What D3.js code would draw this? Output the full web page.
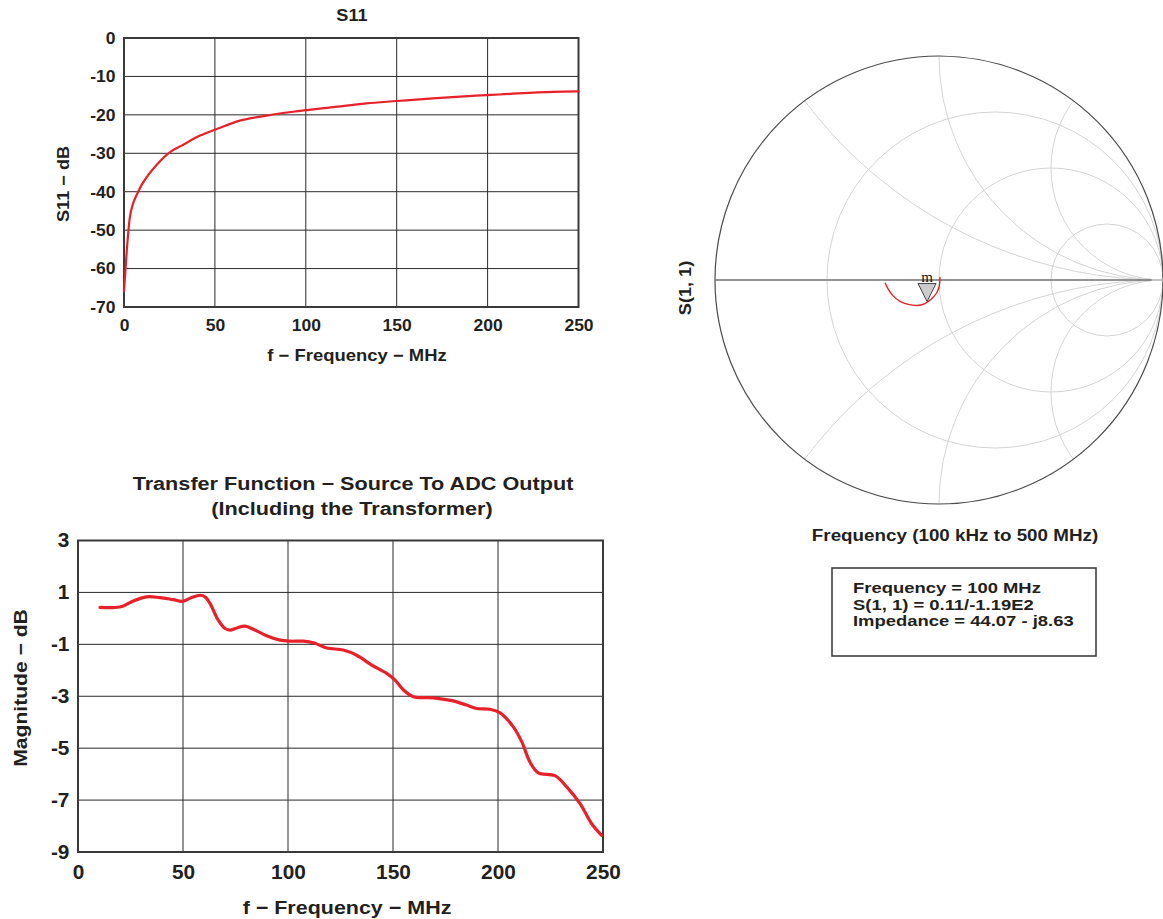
<!DOCTYPE html>
<html><head><meta charset="utf-8">
<script src="https://cdn.jsdelivr.net/npm/d3@7"></script>
<style>
body{margin:0;background:#fff}
svg{display:block;font-family:"Liberation Sans",Arial,sans-serif;font-weight:bold;fill:#231f20}
</style>
</head><body>
<svg id="c" width="1163" height="919"></svg>
<script>
// ---------- S11 chart data ----------
const s11Freq = [0, 1.5, 3.3, 7.9, 13.4, 18, 25.3, 31.7, 41.8, 50.9, 63.7, 78.4, 93, 115, 133.3, 150, 169.8, 193.6, 206.6, 235.9, 250];
const s11dB   = [-65.9, -55.5, -46.4, -39.9, -35.6, -33, -29.7, -28, -25.4, -23.7, -21.5, -20.2, -19.2, -18.0, -17.0, -16.4, -15.7, -15.0, -14.7, -14.0, -13.9];
const s11XTicks = [0, 50, 100, 150, 200, 250];
const s11YTicks = [0, -10, -20, -30, -40, -50, -60, -70];

// ---------- Transfer function data ----------
const tfFreq = [10.5, 17.6, 21.6, 26.3, 32.7, 39, 45.4, 50, 54.1, 58.1, 60.5, 62.9, 66.8, 70, 72.4, 75.6, 79.5, 83.5, 89.8, 96.2, 101, 107.3, 112.5, 118.4, 126.3, 132.7, 139.9, 147, 151, 155, 159.7, 169.2, 178.7, 185, 189.8, 196.2, 201, 207.3, 211.3, 215.2, 219.2, 227.1, 232.7, 239, 244.6, 249.4];
const tfMag  = [0.42, 0.42, 0.48, 0.67, 0.83, 0.80, 0.72, 0.66, 0.80, 0.89, 0.83, 0.57, -0.07, -0.39, -0.45, -0.37, -0.30, -0.42, -0.67, -0.84, -0.88, -0.88, -0.95, -1.14, -1.22, -1.42, -1.80, -2.12, -2.38, -2.76, -3.02, -3.06, -3.18, -3.34, -3.47, -3.50, -3.64, -4.18, -4.75, -5.53, -5.95, -6.06, -6.49, -7.13, -7.91, -8.36];
const tfXTicks = [0, 50, 100, 150, 200, 250];
const tfYTicks = [3, 1, -1, -3, -5, -7, -9];

// ---------- Smith chart data ----------
const smithRe = [0.004, 0.004, 0.001, -0.010, -0.033, -0.0625, -0.100, -0.137, -0.174, -0.204, -0.226, -0.241];
const smithIm = [0.014, 0.002, -0.028, -0.057, -0.084, -0.105, -0.114, -0.109, -0.095, -0.072, -0.042, -0.0125];
const smithRGrid = [1/3, 1, 3];
const smithXGrid = [0.5, 1, 2];
const markerMag = 0.11, markerAngleDeg = -119;
const infoLines = ["Frequency = 100 MHz", "S(1, 1) = 0.11/-1.19E2", "Impedance = 44.07 - j8.63"];

const svg = d3.select("#c");
const RED = "#e8202a";

// text helper: wide (horizontally stretched) bold label
function label(x, y, txt, size, stretch, opts = {}) {
  const rot = opts.rotate ? ` rotate(${opts.rotate})` : "";
  return svg.append("text")
    .attr("transform", `translate(${x},${y})${rot} scale(${stretch},1)`)
    .attr("text-anchor", opts.anchor || "middle")
    .attr("font-size", size).text(txt);
}

function lineChart(cfg) {
  const g = svg.append("g");
  const x = d3.scaleLinear().domain(cfg.xDomain).range([cfg.left, cfg.right]);
  const y = d3.scaleLinear().domain(cfg.yDomain).range([cfg.bottom, cfg.top]);
  g.append("g").selectAll("line.v").data(cfg.xTicks.slice(1, -1)).join("line")
    .attr("x1", d => x(d)).attr("x2", d => x(d)).attr("y1", cfg.top).attr("y2", cfg.bottom)
    .attr("stroke", "#2a2a2a").attr("stroke-width", 1);
  g.append("g").selectAll("line.h").data(cfg.yTicks.slice(1, -1)).join("line")
    .attr("y1", d => y(d)).attr("y2", d => y(d)).attr("x1", cfg.left).attr("x2", cfg.right)
    .attr("stroke", "#2a2a2a").attr("stroke-width", 1);
  const ax = g.append("g").attr("transform", `translate(0,${cfg.bottom})`)
    .call(d3.axisBottom(x).tickValues(cfg.xTicks).tickSize(0).tickPadding(cfg.xPad).tickFormat(d3.format("d")));
  const ay = g.append("g").attr("transform", `translate(${cfg.left},0)`)
    .call(d3.axisLeft(y).tickValues(cfg.yTicks).tickSize(0).tickPadding(cfg.yPad).tickFormat(d => String(d)));
  [ax, ay].forEach(a => {
    a.select(".domain").remove();
    a.selectAll("text").attr("font-size", cfg.fs).attr("font-weight", "bold")
      .attr("font-family", '"Liberation Sans",Arial,sans-serif').attr("fill", "#231f20")
      .attr("transform", `scale(${cfg.tickStretch},1)`);
  });
  g.append("rect").attr("x", cfg.left).attr("y", cfg.top)
    .attr("width", cfg.right - cfg.left).attr("height", cfg.bottom - cfg.top)
    .attr("fill", "none").attr("stroke", "#3a3a3a").attr("stroke-width", 2);
  const pts = cfg.xs.map((v, i) => [v, cfg.ys[i]]);
  g.append("path").datum(pts)
    .attr("d", d3.line().x(d => x(d[0])).y(d => y(d[1])).curve(cfg.curve))
    .attr("fill", "none").attr("stroke", RED).attr("stroke-width", cfg.lw)
    .attr("stroke-linejoin", "round").attr("stroke-linecap", "round");
  return {x, y};
}

// S11 chart
lineChart({left: 124, right: 578.5, top: 38, bottom: 307, xDomain: [0, 250], yDomain: [-70, 0],
  xTicks: s11XTicks, yTicks: s11YTicks, xs: s11Freq, ys: s11dB, fs: 16.5, xPad: 12, yPad: 8,
  tickStretch: 1.06, curve: d3.curveMonotoneX, lw: 2.2});
label(352, 21, "S11", 16.5, 1.1);
label(357, 361, "f − Frequency − MHz", 16.5, 1.12);
label(69, 184, "S11 − dB", 16.5, 1.1, {rotate: -90});

// Transfer function chart
lineChart({left: 78, right: 603, top: 540.5, bottom: 852, xDomain: [0, 250], yDomain: [-9, 3],
  xTicks: tfXTicks, yTicks: tfYTicks, xs: tfFreq, ys: tfMag, fs: 19.5, xPad: 13, yPad: 8,
  tickStretch: 1.07, curve: d3.curveCatmullRom, lw: 3.2});
label(353, 490, "Transfer Function − Source To ADC Output", 19, 1.14);
label(352, 515, "(Including the Transformer)", 19, 1.14);
label(347, 914, "f − Frequency − MHz", 19, 1.13);
label(27, 688, "Magnitude − dB", 19, 1.11, {rotate: -90});

// Smith chart
const sx = d3.scaleLinear().domain([-1, 1]).range([715, 1163]);
const sy = d3.scaleLinear().domain([-1, 1]).range([504, 56]);
const k = sx(1) - sx(0);
svg.append("defs").append("clipPath").attr("id", "unit")
  .append("circle").attr("cx", sx(0)).attr("cy", sy(0)).attr("r", k);
const sg = svg.append("g");
const grid = sg.append("g").attr("clip-path", "url(#unit)").attr("fill", "none").attr("stroke", "#d4d4d4").attr("stroke-width", 1);
grid.selectAll("circle.r").data(smithRGrid).join("circle")
  .attr("cx", r => sx(r / (r + 1))).attr("cy", sy(0)).attr("r", r => k / (r + 1));
const xArcs = smithXGrid.flatMap(v => [v, -v]);
grid.selectAll("circle.x").data(xArcs).join("circle")
  .attr("cx", sx(1)).attr("cy", v => sy(1 / v)).attr("r", v => k / Math.abs(v));
sg.append("circle").attr("cx", sx(0)).attr("cy", sy(0)).attr("r", k)
  .attr("fill", "none").attr("stroke", "#4a4a4a").attr("stroke-width", 1.2);
sg.append("line").attr("x1", sx(-1)).attr("x2", sx(0.95)).attr("y1", sy(0)).attr("y2", sy(0))
  .attr("stroke", "#707070").attr("stroke-width", 1.3);
sg.append("line").attr("x1", sx(0.95)).attr("x2", sx(1)).attr("y1", sy(0)).attr("y2", sy(0))
  .attr("stroke", "#bbbbbb").attr("stroke-width", 1.3);
const tracePts = smithRe.map((v, i) => [v, smithIm[i]]);
sg.append("path").datum(tracePts)
  .attr("d", d3.line().x(d => sx(d[0])).y(d => sy(d[1])).curve(d3.curveCatmullRom))
  .attr("fill", "none").attr("stroke", RED).attr("stroke-width", 1.4);
const ma = markerAngleDeg * Math.PI / 180;
const mx = sx(markerMag * Math.cos(ma)), my = sy(markerMag * Math.sin(ma));
sg.append("path").attr("d", `M${mx},${my} L${mx - 9},${my - 18} L${mx + 9},${my - 18} Z`)
  .attr("fill", "#cccccc").attr("stroke", "#444").attr("stroke-width", 1);
sg.append("text").attr("x", mx).attr("y", my - 20).attr("text-anchor", "middle")
  .attr("font-family", '"Liberation Serif","DejaVu Serif",serif').attr("font-weight", "normal")
  .attr("fill", "#111").attr("font-size", 15).text("m");
label(691, 288, "S(1, 1)", 16.5, 1.1, {rotate: -90});
label(955, 541, "Frequency (100 kHz to 500 MHz)", 16.5, 1.14);

// info box
svg.append("rect").attr("x", 832).attr("y", 568).attr("width", 264).attr("height", 88)
  .attr("fill", "#fff").attr("stroke", "#333").attr("stroke-width", 1.5);
infoLines.forEach((t, i) => label(853, 593 + i * 16.5, t, 15.5, 1.19, {anchor: "start"}));
</script>
</body></html>
